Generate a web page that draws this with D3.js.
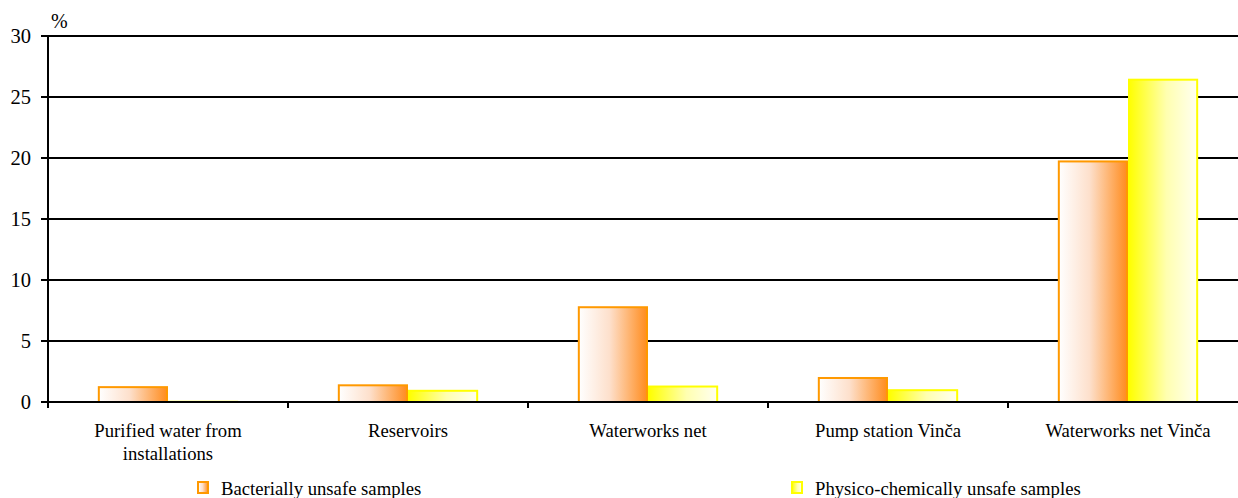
<!DOCTYPE html>
<html><head><meta charset="utf-8">
<script src="https://cdn.jsdelivr.net/npm/d3@7"></script>
<style>body{margin:0;background:#fff}svg{display:block}svg text{font-family:"Liberation Serif","Times New Roman",serif}</style>
</head><body><svg id="c" width="1238" height="498"></svg>
<script>
const categories = ["Purified water from\ninstallations","Reservoirs","Waterworks net","Pump station Vinča","Waterworks net Vinča"];
const bacterial = [1.3, 1.45, 7.85, 2.05, 19.8];
const physico = [0.1, 1.0, 1.35, 1.05, 26.5];
const seriesNames = ["Bacterially unsafe samples","Physico-chemically unsafe samples"];
const yTicks = [0,5,10,15,20,25,30];

const svg = d3.select("#c");
const m = {l:48, t:36, r:-10, b:96};
const W = 1238, H = 498;
const x = d3.scaleBand().domain(categories).range([m.l, W - m.r]).paddingInner(0).paddingOuter(0);
const x1 = d3.scaleBand().domain([0,1]).range([0, x.bandwidth()]).paddingInner(0).paddingOuter(0.71);
const y = d3.scaleLinear().domain([0,30]).range([H - m.b, m.t]);

const defs = svg.append("defs");
const g1 = defs.append("linearGradient").attr("id","gO");
g1.append("stop").attr("offset","0%").attr("stop-color","#ffffff");
g1.append("stop").attr("offset","45%").attr("stop-color","#fde0cc");
g1.append("stop").attr("offset","100%").attr("stop-color","#ff8c1e");
const g2 = defs.append("linearGradient").attr("id","gY");
g2.append("stop").attr("offset","0%").attr("stop-color","#ffff00");
g2.append("stop").attr("offset","55%").attr("stop-color","#ffffb0");
g2.append("stop").attr("offset","100%").attr("stop-color","#fffff2");

svg.append("g").selectAll("line").data(yTicks).join("line")
  .attr("x1", m.l - 7).attr("x2", W).attr("y1", d=>y(d)).attr("y2", d=>y(d))
  .attr("stroke","#000").attr("stroke-width",2);
svg.append("g").selectAll("text").data(yTicks).join("text")
  .attr("x", 31).attr("y", d=>y(d)+7).attr("text-anchor","end").attr("font-size",20.5).attr("fill","#000").text(d=>d);
svg.append("text").attr("x",51).attr("y",28).attr("font-size",20).attr("fill","#000").text("%");

const fills = ["url(#gO)","url(#gY)"], strokes = ["#ff9900","#ffff00"];
const data = categories.map((c,i)=>({c, v:[bacterial[i], physico[i]]}));
const grp = svg.append("g").selectAll("g").data(data).join("g").attr("transform", d=>`translate(${x(d.c)},0)`);
grp.selectAll("rect").data(d=>d.v.map((v,k)=>({v,k}))).join("rect")
  .attr("x", d=>x1(d.k)+1).attr("width", x1.bandwidth()-2)
  .attr("y", d=>y(d.v)+1).attr("height", d=>Math.max(0, y(0)-y(d.v)-1))
  .attr("fill", d=>fills[d.k]).attr("stroke", d=>strokes[d.k]).attr("stroke-width",2);

svg.append("line").attr("x1", m.l).attr("x2", m.l).attr("y1", m.t).attr("y2", y(0)+6).attr("stroke","#000").attr("stroke-width",2);
svg.append("line").attr("x1", m.l - 7).attr("x2", W).attr("y1", y(0)).attr("y2", y(0)).attr("stroke","#000").attr("stroke-width",2);
svg.append("g").selectAll("line").data(categories.slice(1)).join("line")
  .attr("x1", d=>x(d)).attr("x2", d=>x(d)).attr("y1", y(0)).attr("y2", y(0)+6).attr("stroke","#000").attr("stroke-width",2);

svg.append("g").selectAll("text").data(categories).join("text")
  .attr("y", 437).attr("text-anchor","middle").attr("font-size",18.7).attr("fill","#000")
  .each(function(d){
    const t = d3.select(this);
    d.split("\n").forEach((s,i)=>t.append("tspan").attr("x", x(d)+x.bandwidth()/2).attr("dy", i? 23:0).text(s));
  });

const legX = [197, 791];
const lg = svg.append("g").selectAll("g").data(seriesNames).join("g").attr("transform",(d,i)=>`translate(${legX[i]},481)`);
lg.append("rect").attr("x",1).attr("y",1).attr("width",10).attr("height",11)
  .attr("fill",(d,i)=>i?"url(#gY)":"url(#gO)").attr("stroke",(d,i)=>strokes[i]).attr("stroke-width",2);
lg.append("text").attr("x",24).attr("y",14).attr("font-size",18.7).attr("fill","#000").text(d=>d);
</script></body></html>
